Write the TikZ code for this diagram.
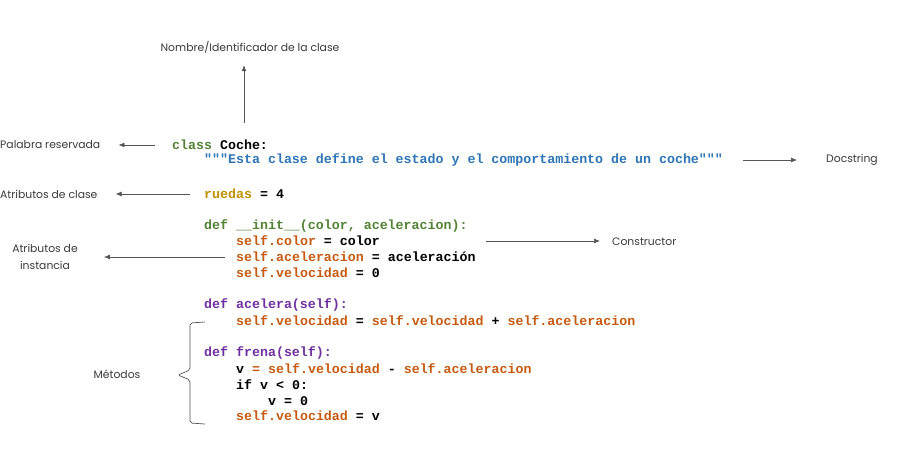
\documentclass[tikz,border=0pt]{standalone}
\usepackage{fontspec}
\setmainfont{Poppins}
\newfontfamily\codefont{Liberation Mono}
\usepackage{xcolor}
\usepackage{tikz}
\usetikzlibrary{arrows.meta,positioning,calc}

\definecolor{kwgreen}{HTML}{548235}
\definecolor{kwpurple}{HTML}{7030A0}
\definecolor{selforange}{HTML}{C55A11}
\definecolor{attrgold}{HTML}{BF9000}
\definecolor{docblue}{HTML}{2E75B6}
\definecolor{labgray}{HTML}{3A3A3A}
\definecolor{arrgray}{HTML}{555555}

\newcommand{\dq}{\char"22\relax}

\tikzset{
  code/.style={anchor=west,inner sep=0pt,font=\codefont\bfseries\fontsize{13.3}{16}\selectfont},
  lab/.style={inner sep=0pt,text=labgray,font=\fontsize{10.8}{17}\selectfont},
  callout/.style={arrgray,line width=0.7pt,-{Latex[length=6pt,width=5pt]}}
}

\begin{document}
\begin{tikzpicture}[x=1pt,y=-1pt]
  \useasboundingbox (0,0) rectangle (900,458);
  % code lines
  \node[code] (cls) at (172,145) {\textcolor{kwgreen}{class} Coche:};
  \node[code] (doc) at (204,160) {\textcolor{docblue}{\dq\dq\dq Esta clase define el estado y el comportamiento de un coche\dq\dq\dq}};
  \node[code] (ruedas) at (204,194) {\textcolor{attrgold}{ruedas} = 4};
  \node[code] (init) at (204,226) {\textcolor{kwgreen}{def \_\_init\_\_(color, aceleracion):}};
  \node[code] (scolor) at (236,241) {\textcolor{selforange}{self.color} = color};
  \node[code] (sacel) at (236,257) {\textcolor{selforange}{self.aceleracion} = aceleración};
  \node[code] (svel) at (236,273) {\textcolor{selforange}{self.velocidad} = 0};
  \node[code] (acel) at (204,305) {\textcolor{kwpurple}{def acelera(self):}};
  \node[code] (acelbody) at (236,321) {\textcolor{selforange}{self.velocidad} = \textcolor{selforange}{self.velocidad} + \textcolor{selforange}{self.aceleracion}};
  \node[code] (frena) at (204,353) {\textcolor{kwpurple}{def frena(self):}};
  \node[code] (fv) at (236,369) {v \textcolor{selforange}{= self.velocidad} - \textcolor{selforange}{self.aceleracion}};
  \node[code] (fif) at (236,385) {if v < 0:};
  \node[code] (fv0) at (268,401) {v = 0};
  \node[code] (fvel) at (236,416) {\textcolor{selforange}{self.velocidad} = v};

  % labels
  \node[lab] (nombre) at (250,47) {Nombre/Identificador de la clase};
  \node[lab,anchor=west] (palabra) at (0,145) {Palabra reservada};
  \node[lab,anchor=west] (atrclase) at (0,194) {Atributos de clase};
  \node[lab,align=center] (atrinst) at (45,257) {Atributos de\\instancia};
  \node[lab,anchor=west] (constr) at (612,242) {Constructor};
  \node[lab,anchor=west] (docstr) at (826,160) {Docstring};
  \node[lab] (metodos) at (117,374) {Métodos};

  % free ends
  \coordinate (nombreS) at (244,123);
  \coordinate (palabraS) at (155,145);
  \coordinate (atrclaseS) at (190,194);
  \coordinate (atrinstS) at (225,257);
  \coordinate (constrS) at (486,241);
  \coordinate (docstrS) at (743,160);

  % callouts
  \draw[callout,shorten >=12pt] (nombreS) -- (nombreS |- nombre.south);
  \draw[callout,shorten >=18pt] (palabraS) -- (palabra.east);
  \draw[callout,shorten >=18pt] (atrclaseS) -- (atrclase.east);
  \draw[callout,shorten >=26pt] (atrinstS) -- (atrinst.east);
  \draw[callout,shorten >=12pt] (constrS) -- (constr.west |- constrS);
  \draw[callout,shorten >=29pt] (docstrS) -- (docstr.west);

  % brace for methods
  \draw[arrgray,line width=0.7pt,rounded corners=2pt]
    (205,322) -- (190,323) -- (190,370) -- (178,375) -- (190,380) -- (190,423) -- (205,424);
\end{tikzpicture}
\end{document}
